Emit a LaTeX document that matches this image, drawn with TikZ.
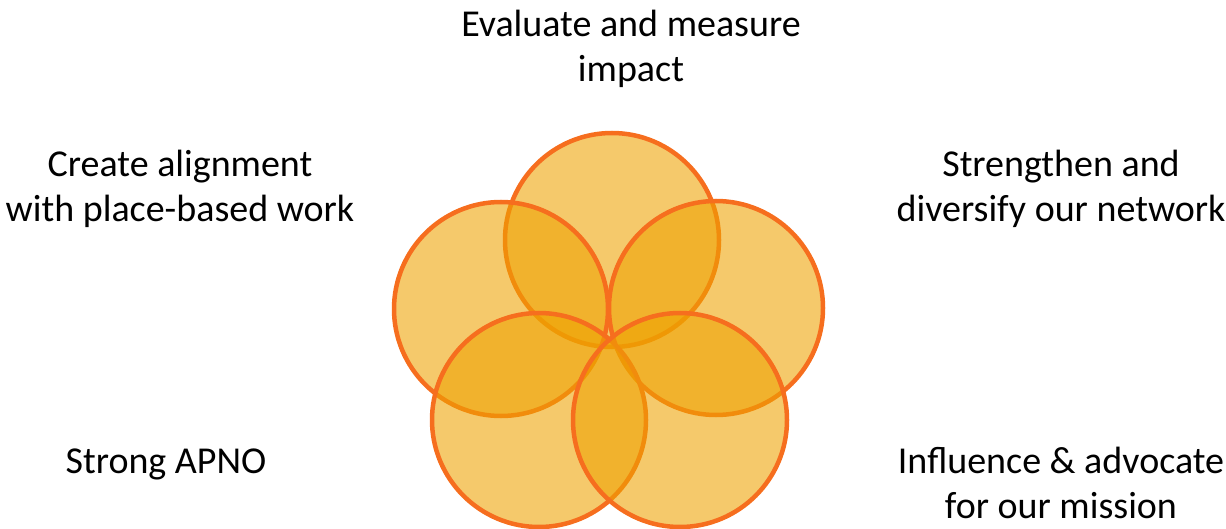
\documentclass[tikz,border=0pt]{standalone}
\usepackage{fontspec}
\setmainfont{Carlito}
\usepackage{tikz}

\definecolor{petalfill}{RGB}{238,162,0}
\definecolor{petalline}{RGB}{246,110,30}

\tikzset{
    petal/.style={draw=petalline, line width=4.5pt, fill=petalfill, fill opacity=0.58},
    goal/.style={font={\fontsize{38}{45}\selectfont}, align=center, anchor=base, inner sep=0pt}
}

\begin{document}
\begin{tikzpicture}[x=1pt, y=-1pt]
    \useasboundingbox (0,0) rectangle (1226,529);
    % 	the five overlapping circles
        \coordinate (ctop) at (612,240);
        \coordinate (cleft) at (501,309);
        \coordinate (cright) at (716,308);
        \coordinate (cbl) at (539,420);
        \coordinate (cbr) at (680,420);
        \foreach \c in {ctop, cleft, cright, cbl, cbr}
            \draw [petal] (\c) circle [radius=107pt];
    % 	labels round the flower (base = last line)
        \node [goal] (evaluate) at (631,82) {Evaluate and measure\\impact};
        \node [goal] (align) at (180,222) {Create alignment\\with place-based work};
        \node [goal] (network) at (1061,222) {Strengthen and\\diversify our network};
        \node [goal] (apno) at (166,473) {Strong APNO};
        \node [goal] (advocate) at (1061,518) {Influence \& advocate\\for our mission};
    \end{tikzpicture}
\end{document}
